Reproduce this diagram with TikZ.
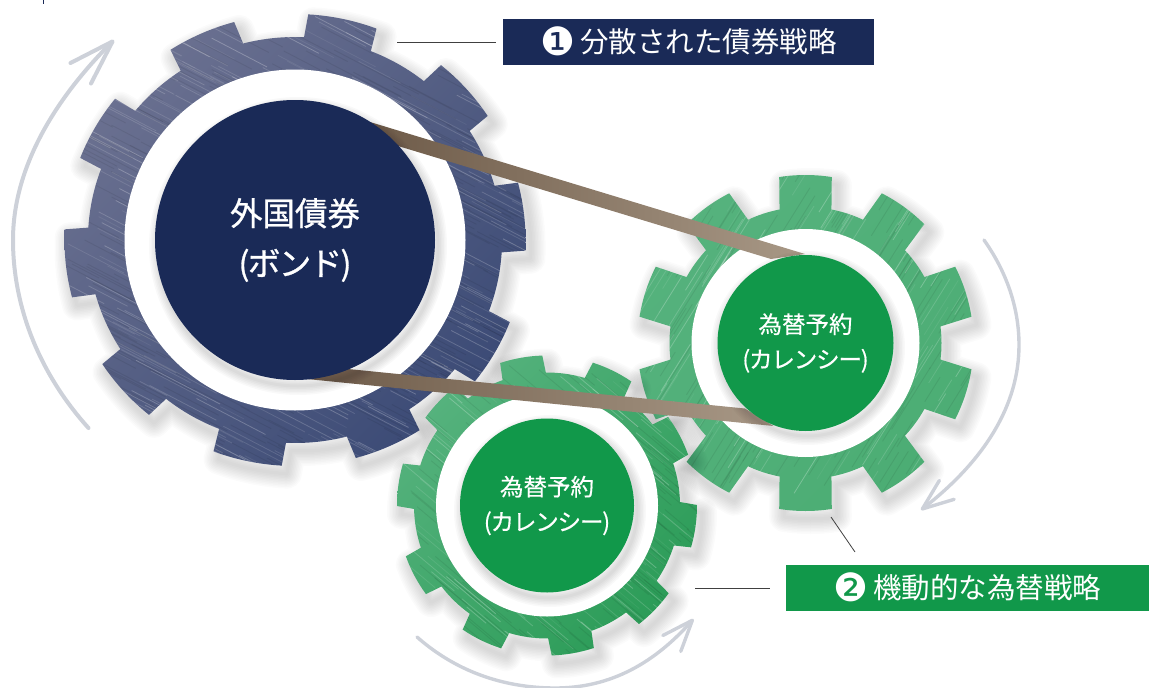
\documentclass[tikz,border=0pt]{standalone}
\usepackage{fontspec}
\usepackage{xcolor}
\usepackage{tikz}
\usetikzlibrary{arrows.meta}
\setmainfont{Noto Sans CJK JP}
\newfontfamily\jpmedium[FakeBold=0.9]{Noto Sans CJK JP}
\newfontfamily\jpsmall[FakeBold=0.5]{Noto Sans CJK JP}
\newfontfamily\dingfont{DejaVu Sans}

\definecolor{navy}{HTML}{1A2A57}
\definecolor{leaf}{HTML}{11984A}
\definecolor{arrowgrey}{HTML}{CDD1D9}
\definecolor{beltdark}{HTML}{6E5B49}
\definecolor{beltlight}{HTML}{A89886}
\definecolor{steellight}{HTML}{6A7090}
\definecolor{steeldark}{HTML}{3C4B76}
\definecolor{mintlight}{HTML}{55B27D}
\definecolor{mintmid}{HTML}{4CAD74}
\definecolor{mintdark}{HTML}{2C9C58}

\tikzset{
  softshadow/.style={draw=black,draw opacity=.015,line join=round},
  bigdisk/.style={circle,fill=navy,text=white,inner sep=0pt,minimum size=280pt,align=center,font=\jpmedium\fontsize{32.5}{50}\selectfont},
  smalldisk/.style={circle,fill=leaf,text=white,inner sep=0pt,minimum size=176pt,align=center,font=\jpsmall\fontsize{23.5}{35}\selectfont},
  hole/.style={circle,fill=white,inner sep=0pt},
  tagbox/.style={inner sep=0pt,text=white,font=\fontsize{28.5}{30}\selectfont},
  leader/.style={draw=black!75,line width=.8pt},
  turnarrow/.style args={#1/#2/#3}{draw=arrowgrey,line width=#1pt,line cap=round,-{Straight Barb[length=#2pt,width=#3pt,round]}},
  navymetal/.style={left color=steellight,right color=steeldark,shading angle=45},
  greenmetal/.style={left color=mintlight,right color=mintmid,shading angle=45},
  greenmetalb/.style={left color=mintlight,right color=mintdark,shading angle=45},
}

% tighter katakana, and the numbered mark
\newcommand{\kana}[1]{{\addfontfeatures{LetterSpace=-5}#1}}
\newcommand{\tagmark}[1]{\smash{\raisebox{-3pt}{\dingfont\fontsize{39}{40}\selectfont #1}}\hspace{5pt}}

% gear outline round the origin: root, tip, first tooth, half width at root and tip
\newcommand{\gearshape}[5]{
  ({#3-#4-90}:#1)
  \foreach \k [evaluate=\k as \a using #3+36*\k-90] in {0,...,9} {
    -- ({\a-#5}:#2) arc[start angle={\a-#5},end angle={\a+#5},radius=#2]
    -- ({\a+#4}:#1) arc[start angle={\a+#4},end angle={\a+36-#4},radius=#1]
  } -- cycle
}
% brushed streaks
\newcommand{\streaks}[3]{
  \foreach \i in {1,...,#1} {
    \pgfmathsetmacro{\sx}{#3*(2*rnd-1)}
    \pgfmathsetmacro{\sy}{#3*(2*rnd-1)}
    \pgfmathsetmacro{\sl}{25+70*rnd}
    \pgfmathsetmacro{\so}{.05+.2*rnd}
    \draw[white,opacity=\so,line width=.8pt] (\sx,\sy) -- ++(#2:\sl);
    \pgfmathsetmacro{\sx}{#3*(2*rnd-1)}
    \pgfmathsetmacro{\sy}{#3*(2*rnd-1)}
    \draw[black,opacity=.07,line width=.9pt] (\sx,\sy) -- ++(#2:\sl);
  }
}
% args: root, tip, first tooth, half root, half tip, metal style, streak angle, streak count
\newcommand{\gearbody}[8]{
  \foreach \w in {30,27,...,3} {
    \draw[softshadow,line width=\w pt,shift={(5,8)}] \gearshape{#1}{#2}{#3}{#4}{#5};
  }
  \begin{scope}
    \clip \gearshape{#1}{#2}{#3}{#4}{#5};
    \shade[#6] (-#2,-#2) rectangle (#2,#2);
    \streaks{#8}{#7}{#2}
  \end{scope}
}

\begin{document}
\begin{tikzpicture}[x=1pt,y=-1pt]
\useasboundingbox (0,0) rectangle (1149,688);
\pgfmathsetseed{42}

% gears
\begin{scope}[shift={(295,240)},xscale=1.02]
  \gearbody{203}{226}{12}{9.5}{8.7}{navymetal}{28}{420}
\end{scope}
\begin{scope}[shift={(805.5,343)}]
  \gearbody{136}{168}{0}{11}{9}{greenmetal}{-58}{170}
\end{scope}
\begin{scope}[shift={(547,505.5)}]
  \gearbody{133}{150}{-10}{9.5}{8.2}{greenmetalb}{40}{170}
\end{scope}

% white rings
\node (ring1) [hole,minimum size=341pt] at (295,240) {};
\node (ring2) [hole,minimum size=228pt] at (805.5,343) {};
\node (ring3) [hole,minimum size=222pt] at (547,505.5) {};

% belts
\shade[left color=beltdark,right color=beltlight] (370,122) -- (805,254) -- (771,259) -- (398,146) -- cycle;
\shade[left color=beltdark,right color=beltlight] (307,379) -- (348,369) -- (745,408.5) -- (773.5,426) -- cycle;

% shadows under the disks
\foreach \w in {18,15,...,3} {
  \draw[softshadow,draw opacity=.022,line width=\w pt] (298,246) circle[radius=140];
  \draw[softshadow,draw opacity=.022,line width=\w pt] (808,348) circle[radius=88];
  \draw[softshadow,draw opacity=.022,line width=\w pt] (550,511) circle[radius=87];
}

% disks
\node (bond) [bigdisk] at (295,240) {外国債券\\\kana{(ボンド)}};
\node (fxa) [smalldisk] at (805.5,343) {為替予約\\\kana{(カレンシー)}};
\node (fxb) [smalldisk,minimum size=174pt] at (547,505.5) {為替予約\\\kana{(カレンシー)}};

% labels
\node (tagone) [tagbox,fill=navy,minimum width=371pt,minimum height=46pt] at (688.5,42) {\tagmark{❶}分散された債券戦略};
\node (tagtwo) [tagbox,fill=leaf,minimum width=363pt,minimum height=46pt] at (967.5,588) {\tagmark{❷}機動的な為替戦略};

% leaders
\coordinate (leadone) at (397,42);
\coordinate (leadtwo) at (695,588);
\coordinate (leadthreea) at (831,517);
\coordinate (leadthreeb) at (855,552);
\draw[leader,shorten >=7pt] (leadone) -- (tagone.west);
\draw[leader,shorten >=16pt] (leadtwo) -- (tagtwo.west);
\draw[leader] (leadthreea) -- (leadthreeb);

% turning arrows
\coordinate (turnas) at (88.5,428);
\coordinate (turnam) at (13,240);
\coordinate (turnae) at (114,40);
\coordinate (turnbs) at (984,240);
\coordinate (turnbm) at (1019,345);
\coordinate (turnbe) at (921,510);
\coordinate (turncs) at (417,637);
\coordinate (turncm) at (555,688);
\coordinate (turnce) at (693.5,619);
\draw[turnarrow=4/45/29] (turnas) .. controls (38,372) and (13,305) .. (turnam) .. controls (13,165) and (58,96) .. (turnae);
\draw[turnarrow=3.4/31/24] (turnbs) .. controls (1008,274) and (1019,310) .. (turnbm) .. controls (1019,405) and (985,460) .. (turnbe);
\draw[turnarrow=3.4/31/24] (turncs) .. controls (460,675) and (510,688) .. (turncm) .. controls (605,688) and (650,668) .. (turnce);

% tick at the top edge
\coordinate (ticktop) at (43,0);
\coordinate (tickend) at (43,3.5);
\draw[navy,line width=.8pt] (ticktop) -- (tickend);
\end{tikzpicture}
\end{document}
